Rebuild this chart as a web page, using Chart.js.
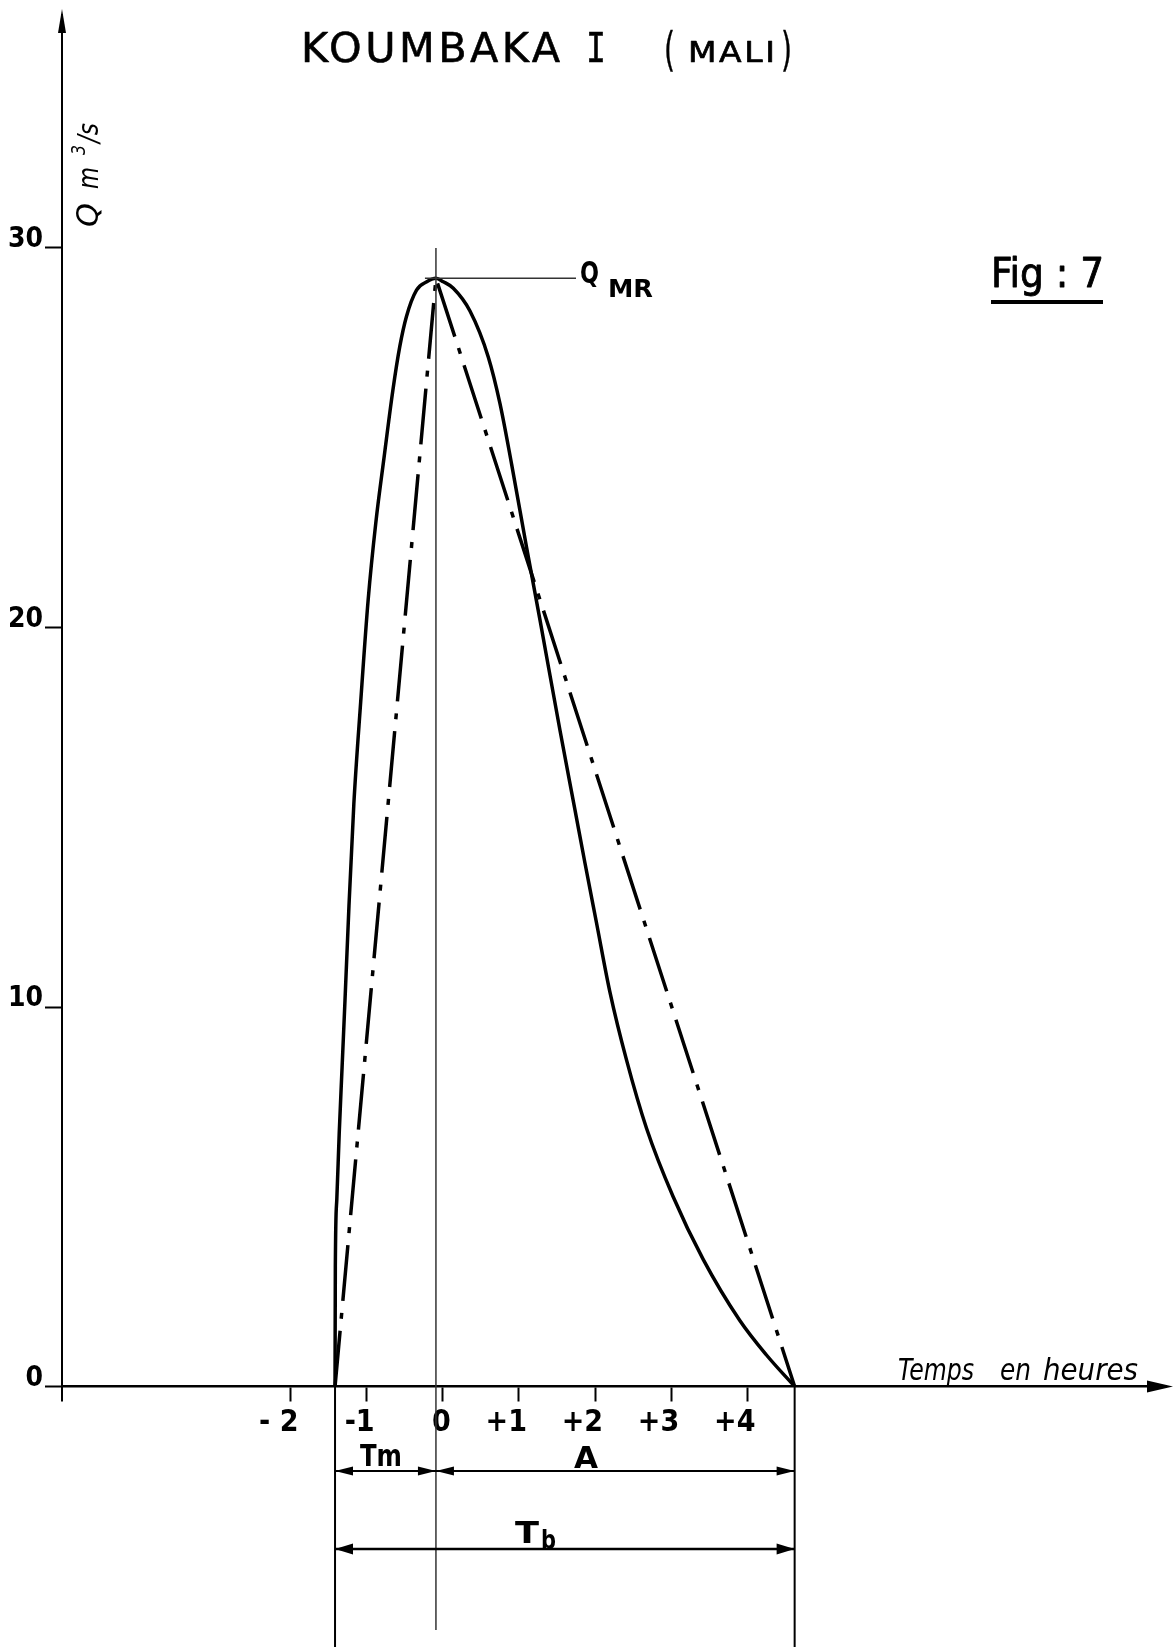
<!DOCTYPE html>
<html>
<head>
<meta charset="utf-8">
<script src="https://cdn.jsdelivr.net/npm/chart.js@4.4.1/dist/chart.umd.min.js"></script>
<style>
  html, body { margin: 0; padding: 0; background: #fff; }
</style>
</head>
<body>
<canvas id="chart1" width="1174" height="1647"></canvas>
<script>
// hydrogramme observé (trait plein)
const hours = [-1.415, -1.411, -1.392, -1.360, -1.322, -1.284, -1.232, -1.168, -1.078, -0.980, -0.880, -0.770, -0.655, -0.565, -0.478, -0.345, -0.210, -0.09, 0.007, 0.138, 0.357, 0.597, 0.751, 0.904, 1.101, 1.276, 1.538, 1.735, 1.866, 2.02, 2.194, 2.413, 2.676, 3.025, 3.419, 3.90, 4.25, 4.62];
const flow = [0, 3.16, 4.91, 6.67, 8.43, 10.18, 12.66, 15.35, 18.04, 20.73, 22.75, 24.5, 26.26, 27.4, 28.19, 28.89, 29.11, 29.2, 29.11, 28.94, 28.34, 27.13, 25.9, 24.3, 22.1, 20.2, 17.3, 15.2, 13.8, 12.2, 10.4, 8.6, 6.8, 5.0, 3.35, 1.74, 0.83, 0];

// hydrogramme triangulaire (trait mixte)
const triHours = [-1.415, -0.09, 4.62];
const triFlow = [0, 29.2, 0];

const xTicks = [-2, -1, 0, 1, 2, 3, 4];
const xTickLabels = ['- 2', '-1', '0', '+1', '+2', '+3', '+4'];
const yTicks = [0, 10, 20, 30];
const yTickLabels = ['0', '10', '20', '30'];

const tStart = -1.415, tPeak = -0.09, tEnd = 4.62, qPeak = 29.2;

const FONT = '"DejaVu Sans Condensed", "Liberation Sans Narrow", "DejaVu Sans", sans-serif';

let seg = (ctx, ax, ay, bx, by, w) => {
  ctx.lineWidth = w;
  ctx.beginPath();
  ctx.moveTo(ax, ay);
  ctx.lineTo(bx, by);
  ctx.stroke();
};

// pointe de fleche, (tx,ty) = bout, dir en radians
let head = (ctx, tx, ty, dir, len, wid) => {
  ctx.save();
  ctx.translate(tx, ty);
  ctx.rotate(dir);
  ctx.beginPath();
  ctx.moveTo(0, 0);
  ctx.lineTo(-len, -wid / 2);
  ctx.lineTo(-len, wid / 2);
  ctx.closePath();
  ctx.fill();
  ctx.restore();
};

// texte, etire a la largeur voulue (width), espacement (sp), trait epaissi (thick)
let txt = (ctx, s, px, py, font, width, thick, sp) => {
  ctx.save();
  ctx.font = font;
  ctx.textAlign = 'left';
  ctx.letterSpacing = (sp || 0) + 'px';
  ctx.translate(px, py);
  if (width) {
    const w = ctx.measureText(s).width - (sp || 0);
    ctx.scale(width / w, 1);
  }
  ctx.fillText(s, 0, 0);
  if (thick) {
    ctx.lineWidth = thick;
    ctx.lineJoin = 'round';
    ctx.strokeText(s, 0, 0);
  }
  ctx.restore();
};

const drawing = {
  id: 'drawing',
  afterDraw(chart) {
    const ctx = chart.ctx;
    const x = chart.scales.x, y = chart.scales.y;
    const x0 = x.getPixelForValue(tStart);
    const xp = x.getPixelForValue(tPeak);
    const x1 = x.getPixelForValue(tEnd);
    const yb = y.getPixelForValue(0);
    const yq = y.getPixelForValue(qPeak);
    const left = chart.chartArea.left;
    ctx.save();
    ctx.strokeStyle = '#000';
    ctx.fillStyle = '#000';
    ctx.textBaseline = 'alphabetic';

    // fleches des axes
    seg(ctx, left, chart.chartArea.top, left, 14, 2);
    head(ctx, left, 9, -Math.PI / 2, 24, 8);
    seg(ctx, left, yb, left, yb + 15, 2);
    seg(ctx, chart.chartArea.right, yb, 1150, yb, 2.5);
    head(ctx, 1173, yb, 0, 26, 12);

    // verticale du pointe et Q_MR
    ctx.strokeStyle = '#333';
    seg(ctx, xp, y.getPixelForValue(30), xp, 1630, 1.5);
    seg(ctx, xp - 11, yq, 576, yq, 1.5);
    ctx.strokeStyle = '#000';

    // lignes de rappel
    seg(ctx, x0, yb, x0, 1647, 2);
    seg(ctx, x1, yb, x1, 1647, 2);

    // cotes Tm, A, Tb
    const yA = 1471, yT = 1549;
    seg(ctx, x0, yA, x1, yA, 2);
    head(ctx, x0, yA, Math.PI, 18, 9);
    head(ctx, xp, yA, 0, 18, 9);
    head(ctx, xp, yA, Math.PI, 18, 9);
    head(ctx, x1, yA, 0, 18, 9);
    seg(ctx, x0, yT, x1, yT, 2.5);
    head(ctx, x0, yT, Math.PI, 18, 11);
    head(ctx, x1, yT, 0, 18, 11);

    const lab = 'bold 31px ' + FONT;
    txt(ctx, 'Tm', 360, 1466, lab, 42);
    txt(ctx, 'A', 574, 1468, lab, 24);
    txt(ctx, 'T', 515, 1543, lab, 24);
    txt(ctx, 'b', 541, 1549, 'bold 26px ' + FONT, 15);

    // titre
    const tf = '40px ' + FONT;
    txt(ctx, 'KOUMBAKA', 301, 62, tf, 259, 0.5, 3);
    txt(ctx, 'I', 586, 62, '40px "DejaVu Sans Mono", monospace', 20, 0.5);
    txt(ctx, '(', 664, 65, '46px ' + FONT, 11, 0.4);
    txt(ctx, 'MALI', 688, 62, '28px ' + FONT, 87, 0.6, 2);
    txt(ctx, ')', 781, 65, '46px ' + FONT, 11, 0.4);

    // Fig : 7
    txt(ctx, 'Fig : 7', 991, 287, tf, 113, 0.8);
    ctx.fillRect(991, 300, 112, 4);

    // Q_MR
    txt(ctx, 'Q', 580, 283, 'bold 30px ' + FONT, 19);
    txt(ctx, 'MR', 608, 297, 'bold 24px ' + FONT, 45);

    // axe des x
    const it = 'italic 31px ' + FONT;
    txt(ctx, 'Temps', 898, 1380, it, 76);
    txt(ctx, 'en', 1000, 1380, it, 31);
    txt(ctx, 'heures', 1043, 1380, it, 95);

    // axe des y (vertical)
    ctx.save();
    ctx.translate(98, 227);
    ctx.rotate(-Math.PI / 2);
    txt(ctx, 'Q', 0, 0, 'italic 30px ' + FONT, 24);
    txt(ctx, 'm', 38, 0, 'italic 28px ' + FONT, 22);
    txt(ctx, '3', 72, -13, 'italic 20px ' + FONT, 10);
    txt(ctx, '/s', 84, 0, 'italic 28px ' + FONT, 20);
    ctx.restore();

    ctx.restore();
  }
};

const ctx = document.getElementById('chart1');
const config = {
  type: 'line',
  data: {
    datasets: [
      {
        label: 'Hydrogramme',
        data: hours.map((h, i) => ({ x: h, y: flow[i] })),
        borderColor: '#000',
        borderWidth: 3.5,
        pointRadius: 0,
        cubicInterpolationMode: 'monotone',
        fill: false,
      },
      {
        label: 'Triangulaire',
        data: triHours.map((h, i) => ({ x: h, y: triFlow[i] })),
        borderColor: '#000',
        borderWidth: 3.5,
        borderDash: [56, 12, 6, 12],
        pointRadius: 0,
        tension: 0,
        fill: false,
      },
    ],
  },
  options: {
    responsive: false,
    animation: false,
    layout: { padding: { top: 20.3, right: 7.7, left: 0, bottom: 0 } },
    plugins: { legend: { display: false }, tooltip: { enabled: false }, title: { display: false } },
    scales: {
      x: {
        type: 'linear',
        min: -5,
        max: 9.5,
        afterBuildTicks: (s) => { s.ticks = xTicks.map(v => ({ value: v })); },
        afterFit: (s) => { s.height = 260.5; },
        ticks: {
          callback: (v) => xTickLabels[xTicks.indexOf(v)],
          align: 'end',
          labelOffset: 8,
          padding: 4,
          color: '#000',
          font: { family: FONT, size: 30, weight: 'bold' },
        },
        grid: { drawOnChartArea: false, tickLength: 15, tickColor: '#000', tickWidth: 2 },
        border: { display: true, color: '#000', width: 2.5 },
      },
      y: {
        type: 'linear',
        min: 0,
        max: 36,
        afterBuildTicks: (s) => { s.ticks = yTicks.map(v => ({ value: v })); },
        afterFit: (s) => { s.width = 62; },
        ticks: {
          callback: (v) => yTickLabels[yTicks.indexOf(v)],
          labelOffset: -8,
          padding: 2,
          color: '#000',
          font: { family: FONT, size: 28, weight: 'bold' },
        },
        grid: { drawOnChartArea: false, tickLength: 17, tickColor: '#000', tickWidth: 2 },
        border: { display: true, color: '#000', width: 2 },
      },
    },
  },
  plugins: [drawing],
};
const chart = new Chart(ctx, config);
</script>
</body>
</html>
